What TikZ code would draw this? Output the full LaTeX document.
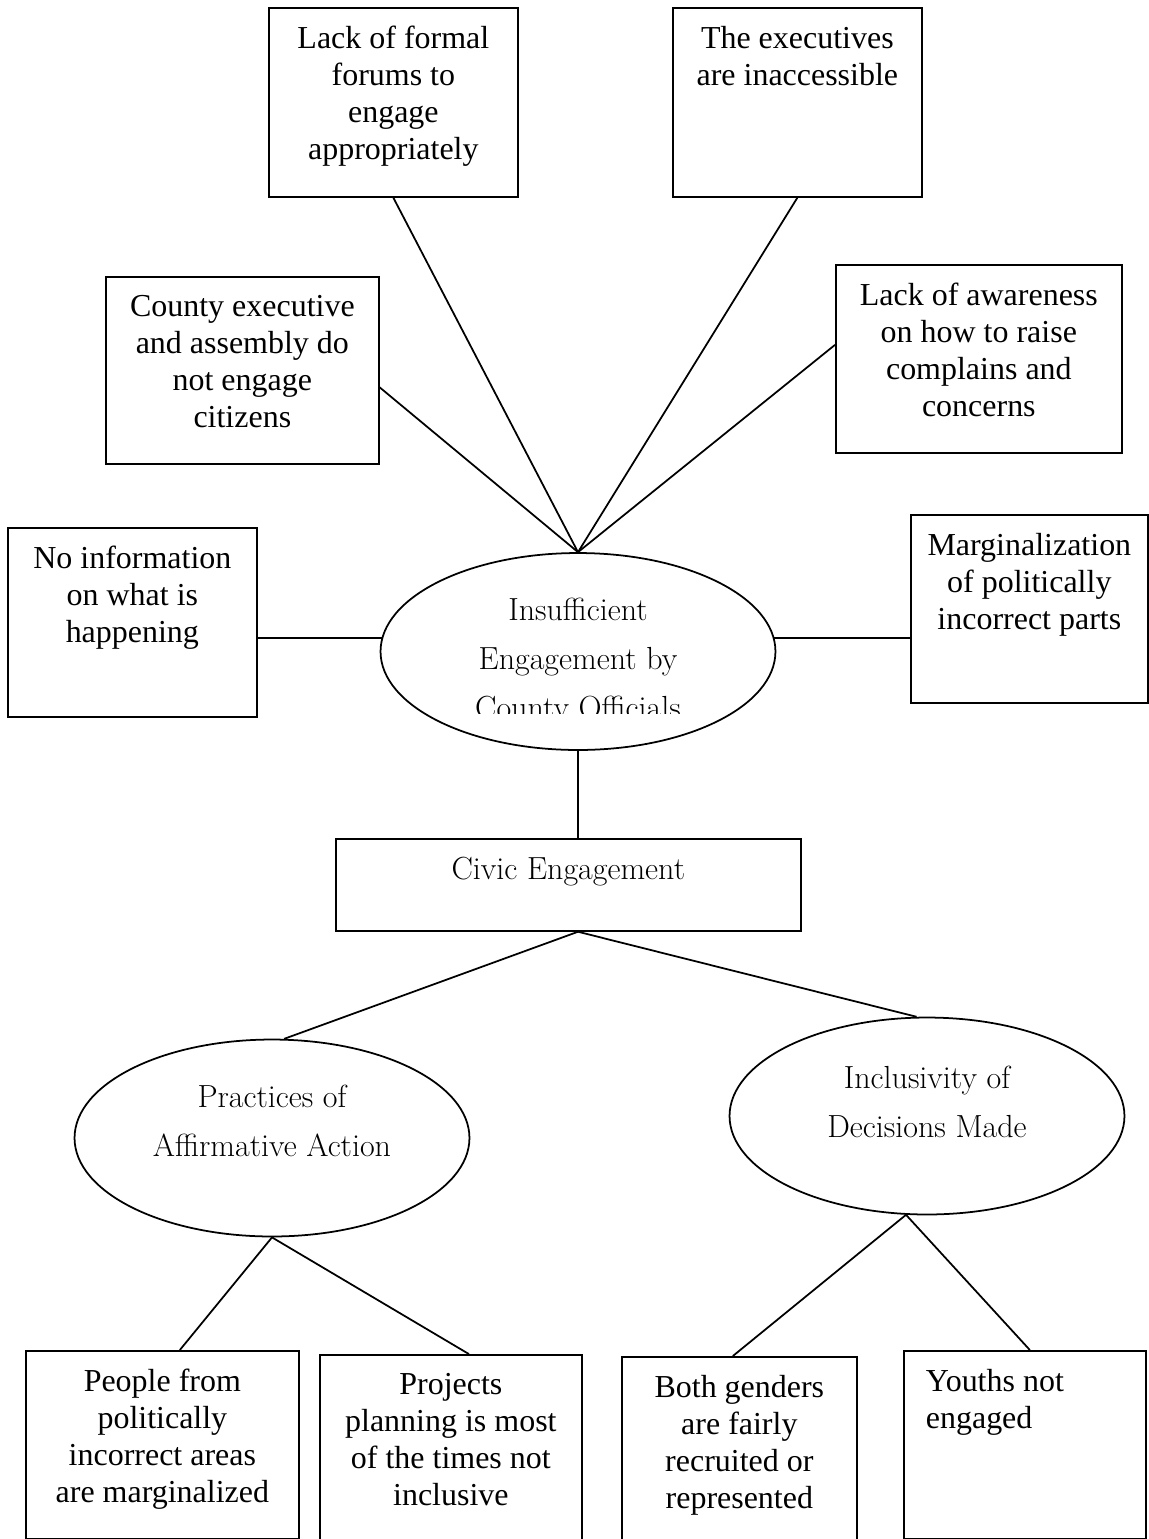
\documentclass[tikz,border=0pt]{standalone}
\usepackage{fontspec}
\newfontfamily\boxfont{Liberation Serif}
\usepackage{tikz}
\usetikzlibrary{shapes, positioning}

\begin{document}
\begin{tikzpicture}[x=0.02cm, y=-0.02cm, line width=1pt,
        cause/.style={draw, rectangle, anchor=north west, inner sep=0pt},
        oval/.style={draw, ellipse, inner sep=0pt, minimum width=7.9cm, minimum height=3.94cm},
        boxtext/.style={anchor=north, inner sep=0pt, yshift=-0.37cm, align=center, font=\boxfont\fontsize{18.2}{21}\selectfont},
        ovaltext/.style={inner sep=0pt, align=center, font=\fontsize{18.2}{27.8}\selectfont}]
                \clip (0,0) rectangle (1149,1539);
                \node[cause, minimum width=4.98cm, minimum height=3.78cm, label={[boxtext]north:{Lack of formal\\forums to\\engage\\appropriately}}] (forums) at (268,7) {};
                \node[cause, minimum width=4.98cm, minimum height=3.78cm, label={[boxtext]north:{The executives\\are inaccessible}}] (inacc) at (672,7) {};
                \node[cause, minimum width=5.46cm, minimum height=3.74cm, label={[boxtext]north:{County executive\\and assembly do\\not engage\\citizens}}] (county) at (105,276) {};
                \node[cause, minimum width=5.72cm, minimum height=3.76cm, label={[boxtext]north:{Lack of awareness\\on how to raise\\complains and\\concerns}}] (aware) at (835,264) {};
                \node[cause, minimum width=4.98cm, minimum height=3.78cm, label={[boxtext]north:{No information\\on what is\\happening}}] (noinfo) at (7,527) {};
                \node[cause, minimum width=4.74cm, minimum height=3.76cm, label={[boxtext]north:{Marginalization\\of politically\\incorrect parts}}] (margin) at (910,514) {};
                \node[oval] (insuf) at (578,651.5) {};
                \begin{scope}
                    \clip (377,540) rectangle (771,713);
                    \node[ovaltext, yshift=-0.196cm] (insuftext) at (insuf) {Insufficient\\Engagement by\\County Officials};
                \end{scope}
                \node[cause, minimum width=9.3cm, minimum height=1.84cm, label={[ovaltext, yshift=0.26cm]center:{Civic Engagement}}] (civic) at (335,838) {};
                \node[oval, label={[ovaltext, yshift=0.35cm]center:{Practices of\\Affirmative Action}}] (practices) at (272,1138) {};
                \node[oval, label={[ovaltext, yshift=0.29cm]center:{Inclusivity of\\Decisions Made}}] (inclus) at (927,1116) {};
                \node[cause, minimum width=5.46cm, minimum height=3.76cm, label={[boxtext]north:{People from\\politically\\incorrect areas\\are marginalized}}] (people) at (25,1350) {};
                \node[cause, minimum width=5.24cm, minimum height=4cm, label={[boxtext]north:{Projects\\planning is most\\of the times not\\inclusive}}] (projects) at (319,1354) {};
                \node[cause, minimum width=4.7cm, minimum height=4cm, label={[boxtext]north:{Both genders\\are fairly\\recruited or\\represented}}] (genders) at (621,1356) {};
                \node[cause, minimum width=4.84cm, minimum height=3.76cm, label={[boxtext, anchor=north west, align=left, xshift=0.44cm]north west:{Youths not\\engaged}}] (youths) at (903,1350) {};
                \draw (insuf.north) -- (forums.south);
                \draw (insuf.north) -- (inacc.south);
                \draw (insuf.north) -- ([yshift=-0.34cm]county.east);
                \draw (insuf.north) -- ([yshift=0.28cm]aware.west);
                \draw (insuf.176) -- (insuf.176 -| noinfo.east);
                \draw (insuf.4) -- (insuf.4 -| margin.west);
                \draw (insuf.south) -- (insuf.south |- civic.north);
                \coordinate (hub) at (insuf.south |- civic.south);
                \draw (hub) -- (practices.83);
                \draw (hub) -- (inclus.96);
                \draw (practices.south) -- ([xshift=0.35cm]people.north);
                \draw (practices.south) -- ([xshift=0.36cm]projects.north);
                \draw (inclus.258) -- ([xshift=-0.13cm]genders.north);
                \draw (inclus.258) -- ([xshift=0.1cm]youths.north);
            \end{tikzpicture}
\end{document}
